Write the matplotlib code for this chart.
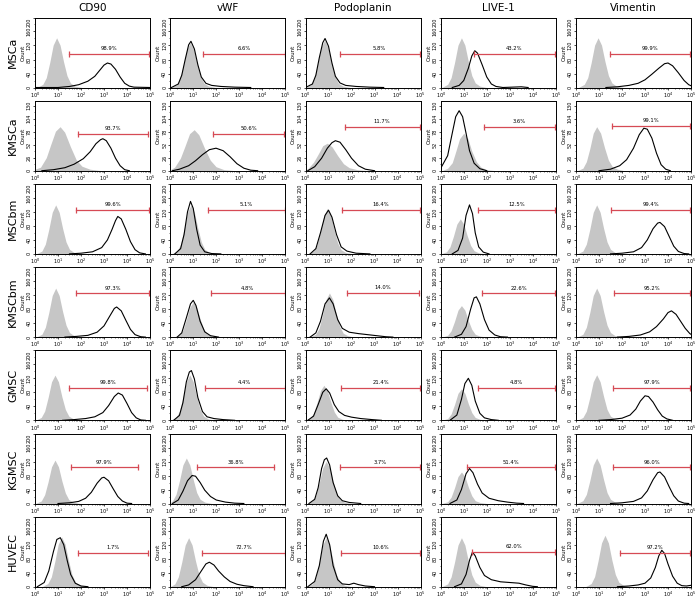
import numpy as np
import matplotlib.pyplot as plt
from matplotlib.ticker import FixedLocator, MultipleLocator

cells = ['MSCa', 'KMSCa', 'MSCbm', 'KMSCbm', 'GMSC', 'KGMSC', 'HUVEC']
markers = ['CD90', 'vWF', 'Podoplanin', 'LIVE-1', 'Vimentin']
ymax_rows = [200, 140, 200, 200, 200, 200, 200]

# curves: (log10 fluorescence, count), one entry per cell line
cd90_iso = [
    ([0.09, 0.34, 0.49, 0.64, 0.79, 0.94, 1.09, 1.24, 1.39, 1.54, 1.74, 2.04], [0, 9, 28, 71, 121, 142, 121, 74, 34, 13, 4, 0]),
    ([0, 0.24, 0.49, 0.69, 0.89, 1.09, 1.29, 1.54, 1.79, 2.04, 2.39, 2.89], [3, 7, 26, 53, 79, 88, 77, 48, 22, 9, 3, 0]),
    ([0.05, 0.3, 0.45, 0.6, 0.75, 0.9, 1.05, 1.2, 1.35, 1.5, 1.7, 2.0], [0, 8, 28, 70, 119, 140, 119, 73, 34, 13, 4, 0]),
    ([0.05, 0.3, 0.45, 0.6, 0.75, 0.9, 1.05, 1.2, 1.35, 1.5, 1.7, 2.0], [0, 8, 28, 70, 119, 140, 119, 73, 34, 13, 4, 0]),
    ([0.02, 0.27, 0.42, 0.57, 0.72, 0.87, 1.02, 1.17, 1.32, 1.47, 1.67, 1.97], [0, 8, 26, 65, 110, 129, 110, 67, 31, 12, 4, 0]),
    ([0.02, 0.27, 0.42, 0.57, 0.72, 0.87, 1.02, 1.17, 1.32, 1.47, 1.67, 1.97], [0, 7, 25, 62, 105, 124, 105, 64, 30, 11, 4, 0]),
    ([0.31, 0.56, 0.71, 0.86, 1.01, 1.16, 1.31, 1.46, 1.61, 1.76, 1.96, 2.26], [0, 9, 28, 71, 121, 142, 121, 74, 34, 13, 4, 0]),
]
cd90_stain = [
    ([0, 1.0, 1.5, 1.9, 2.3, 2.6, 2.85, 3.0, 3.15, 3.3, 3.5, 3.7, 3.9, 4.1, 4.3, 5.0], [0, 0, 3, 8, 18, 32, 52, 64, 70, 67, 52, 30, 12, 4, 1, 0]),
    ([0.3, 0.8, 1.3, 1.7, 2.1, 2.4, 2.65, 2.85, 2.95, 3.1, 3.3, 3.5, 3.7, 3.9, 4.1], [0, 2, 6, 13, 24, 38, 54, 62, 64, 60, 45, 25, 10, 2, 0]),
    ([1.5, 2.0, 2.5, 2.9, 3.15, 3.35, 3.5, 3.6, 3.75, 3.95, 4.15, 4.35, 4.55, 4.8], [0, 2, 6, 18, 40, 70, 95, 107, 100, 70, 35, 12, 3, 0]),
    ([1.3, 1.8, 2.3, 2.7, 3.0, 3.25, 3.45, 3.55, 3.75, 3.95, 4.15, 4.35, 4.6, 4.8], [0, 2, 5, 14, 32, 60, 82, 86, 75, 48, 22, 7, 1, 0]),
    ([1.2, 1.7, 2.2, 2.6, 2.95, 3.2, 3.45, 3.62, 3.8, 4.0, 4.2, 4.4, 4.6, 4.8], [0, 2, 5, 10, 22, 42, 68, 78, 72, 48, 22, 7, 1, 0]),
    ([1.0, 1.5, 1.9, 2.2, 2.45, 2.7, 2.9, 3.0, 3.2, 3.4, 3.6, 3.8, 4.0, 4.2], [0, 2, 6, 15, 32, 58, 73, 75, 65, 42, 20, 7, 1, 0]),
    ([0.1, 0.4, 0.6, 0.8, 0.95, 1.1, 1.25, 1.4, 1.55, 1.75, 2.0, 2.3], [0, 12, 45, 100, 135, 140, 120, 75, 35, 10, 2, 0]),
]
cd90_gate = [(1.48, 4.97, 97), (1.86, 4.9, 74), (1.78, 4.97, 126), (1.8, 4.97, 125),
             (1.49, 4.86, 92), (1.55, 4.47, 103), (1.88, 4.92, 96)]
cd90_pct = ['98.9%', '93.7%', '99.6%', '97.3%', '99.8%', '97.9%', '1.7%']

vwf_iso = [
    ([0.02, 0.27, 0.42, 0.57, 0.72, 0.87, 1.02, 1.17, 1.32, 1.47, 1.67, 1.97], [0, 8, 26, 64, 109, 128, 109, 67, 31, 12, 4, 0]),
    ([0, 0.19, 0.44, 0.64, 0.84, 1.04, 1.24, 1.49, 1.74, 1.99, 2.34, 2.84], [2, 7, 25, 49, 74, 82, 72, 45, 21, 8, 2, 0]),
    ([0.05, 0.3, 0.45, 0.6, 0.75, 0.9, 1.05, 1.2, 1.35, 1.5, 1.7, 2.0], [0, 8, 28, 70, 119, 140, 119, 73, 34, 13, 4, 0]),
    ([0.15, 0.4, 0.55, 0.7, 0.85, 1.0, 1.15, 1.3, 1.45, 1.6, 1.8, 2.1], [0, 6, 20, 50, 85, 100, 85, 52, 24, 9, 3, 0]),
    ([0, 0.25, 0.4, 0.55, 0.7, 0.85, 1.0, 1.15, 1.3, 1.45, 1.65, 1.95], [0, 8, 26, 65, 110, 130, 110, 68, 31, 12, 4, 0]),
    ([0, 0.1, 0.25, 0.4, 0.55, 0.7, 0.85, 1.0, 1.15, 1.3, 1.5, 1.8], [2, 8, 26, 65, 110, 130, 110, 68, 31, 12, 4, 0]),
    ([0, 0.2, 0.35, 0.5, 0.65, 0.8, 0.95, 1.1, 1.25, 1.4, 1.6, 1.9], [0, 8, 28, 70, 119, 140, 119, 73, 34, 13, 4, 0]),
]
vwf_stain = [
    ([0.05, 0.35, 0.5, 0.65, 0.8, 0.9, 1.05, 1.2, 1.35, 1.55, 1.8, 2.2, 2.8, 3.5], [0, 10, 35, 80, 122, 132, 110, 65, 30, 12, 6, 3, 1, 0]),
    ([0.1, 0.4, 0.8, 1.1, 1.4, 1.7, 1.99, 2.3, 2.6, 2.9, 3.2, 3.5, 3.8], [0, 3, 10, 20, 32, 42, 45, 40, 28, 14, 5, 1, 0]),
    ([0.2, 0.45, 0.6, 0.75, 0.88, 1.0, 1.15, 1.3, 1.5, 1.8, 2.2], [0, 15, 55, 120, 150, 130, 70, 25, 6, 1, 0]),
    ([0.3, 0.5, 0.7, 0.88, 1.0, 1.12, 1.3, 1.5, 1.75, 2.1], [0, 12, 55, 95, 105, 90, 45, 15, 4, 0]),
    ([0.15, 0.4, 0.55, 0.7, 0.83, 0.92, 1.05, 1.2, 1.4, 1.6, 1.9, 2.3, 2.8], [0, 14, 50, 110, 138, 142, 118, 65, 25, 10, 5, 2, 0]),
    ([0.1, 0.35, 0.55, 0.75, 0.95, 1.1, 1.3, 1.5, 1.75, 2.0, 2.4, 2.8, 3.2], [0, 10, 35, 65, 80, 78, 60, 38, 20, 10, 4, 1, 0]),
    ([0.5, 0.8, 1.1, 1.35, 1.55, 1.7, 1.9, 2.1, 2.35, 2.6, 2.9, 3.2, 3.6], [0, 5, 20, 45, 65, 70, 62, 45, 28, 15, 7, 3, 0]),
]
vwf_gate = [(1.43, 4.97, 97), (1.87, 4.96, 73), (1.65, 4.97, 126), (1.75, 4.97, 125),
            (1.5, 4.97, 92), (1.17, 4.5, 103), (1.4, 4.97, 96)]
vwf_pct = ['6.6%', '50.6%', '5.1%', '4.8%', '4.4%', '36.8%', '72.7%']

podo_iso = [
    ([0, 0.23, 0.38, 0.53, 0.68, 0.83, 0.98, 1.13, 1.28, 1.43, 1.63, 1.93], [0, 8, 27, 68, 115, 135, 115, 70, 32, 12, 4, 0]),
    ([0, 0.1, 0.35, 0.55, 0.75, 0.95, 1.15, 1.4, 1.65, 1.9, 2.25, 2.75], [2, 4, 17, 33, 50, 55, 48, 30, 14, 6, 2, 0]),
    ([0.1, 0.35, 0.5, 0.65, 0.8, 0.95, 1.1, 1.25, 1.4, 1.55, 1.75, 2.05], [0, 8, 26, 65, 110, 130, 110, 68, 31, 12, 4, 0]),
    ([0.19, 0.44, 0.59, 0.74, 0.89, 1.04, 1.19, 1.34, 1.49, 1.64, 1.84, 2.14], [0, 8, 25, 63, 107, 126, 107, 66, 30, 11, 4, 0]),
    ([0, 0.2, 0.35, 0.5, 0.65, 0.8, 0.95, 1.1, 1.25, 1.4, 1.6, 1.9], [0, 6, 20, 50, 85, 100, 85, 52, 24, 9, 3, 0]),
    ([0.05, 0.3, 0.45, 0.6, 0.75, 0.9, 1.05, 1.2, 1.35, 1.5, 1.7, 2.0], [0, 7, 24, 60, 102, 120, 102, 62, 29, 11, 4, 0]),
    ([0.05, 0.3, 0.45, 0.6, 0.75, 0.9, 1.05, 1.2, 1.35, 1.5, 1.7, 2.0], [0, 8, 28, 70, 119, 140, 119, 73, 34, 13, 4, 0]),
]
podo_stain = [
    ([0.0, 0.3, 0.45, 0.6, 0.75, 0.85, 1.0, 1.15, 1.3, 1.5, 1.75, 2.2, 2.8, 3.4], [0, 10, 35, 85, 128, 140, 118, 70, 32, 13, 6, 3, 1, 0]),
    ([0.1, 0.4, 0.7, 0.95, 1.15, 1.3, 1.5, 1.75, 2.0, 2.3, 2.6, 3.0], [0, 8, 25, 45, 56, 60, 57, 42, 25, 10, 3, 0]),
    ([0.2, 0.45, 0.65, 0.85, 1.0, 1.15, 1.35, 1.55, 1.8, 2.2, 2.8], [0, 15, 60, 110, 125, 105, 55, 20, 8, 2, 0]),
    ([0.2, 0.45, 0.65, 0.85, 1.04, 1.2, 1.4, 1.6, 1.9, 2.3, 2.7, 3.1, 3.5, 3.8], [0, 12, 45, 95, 112, 95, 50, 25, 14, 10, 7, 4, 1, 0]),
    ([0.1, 0.35, 0.55, 0.75, 0.9, 1.05, 1.25, 1.45, 1.7, 2.0, 2.4, 2.9, 3.3], [0, 12, 45, 80, 90, 78, 45, 25, 14, 9, 5, 2, 0]),
    ([0.15, 0.4, 0.55, 0.7, 0.82, 0.92, 1.05, 1.2, 1.4, 1.6, 1.9, 2.4], [0, 12, 45, 100, 125, 130, 110, 60, 22, 8, 3, 0]),
    ([0.1, 0.4, 0.6, 0.78, 0.9, 1.05, 1.2, 1.4, 1.6, 1.9, 2.1, 2.3, 2.6, 3.0], [0, 15, 60, 130, 150, 120, 60, 20, 8, 6, 10, 6, 2, 0]),
]
podo_gate = [(1.48, 4.97, 97), (1.7, 4.97, 88), (1.57, 4.97, 126), (1.81, 4.92, 126),
             (1.55, 4.97, 92), (1.5, 4.97, 103), (1.55, 4.97, 96)]
podo_pct = ['5.8%', '11.7%', '16.4%', '14.0%', '21.4%', '3.7%', '10.6%']

live_iso = [
    ([0.05, 0.3, 0.45, 0.6, 0.75, 0.9, 1.05, 1.2, 1.35, 1.5, 1.7, 2.0], [0, 9, 28, 71, 121, 142, 121, 74, 34, 13, 4, 0]),
    ([0.05, 0.3, 0.5, 0.65, 0.82, 1.0, 1.18, 1.35, 1.55, 1.75, 2.0, 2.4], [0, 5, 16, 38, 64, 75, 64, 39, 18, 7, 2, 0]),
    ([0, 0.25, 0.4, 0.55, 0.7, 0.85, 1.0, 1.15, 1.3, 1.45, 1.65, 1.95], [0, 6, 20, 50, 85, 100, 85, 52, 24, 9, 3, 0]),
    ([0.05, 0.3, 0.45, 0.6, 0.75, 0.9, 1.05, 1.2, 1.35, 1.5, 1.7, 2.0], [0, 5, 18, 45, 77, 90, 77, 47, 22, 8, 3, 0]),
    ([0.05, 0.3, 0.45, 0.6, 0.75, 0.9, 1.05, 1.2, 1.35, 1.5, 1.7, 2.0], [0, 5, 18, 45, 77, 90, 77, 47, 22, 8, 3, 0]),
    ([0.05, 0.3, 0.45, 0.6, 0.75, 0.9, 1.05, 1.2, 1.35, 1.5, 1.7, 2.0], [0, 5, 18, 45, 77, 90, 77, 47, 22, 8, 3, 0]),
    ([0.05, 0.3, 0.45, 0.6, 0.75, 0.9, 1.05, 1.2, 1.35, 1.5, 1.7, 2.0], [0, 8, 28, 70, 119, 140, 119, 73, 34, 13, 4, 0]),
]
live_stain = [
    ([0.5, 0.8, 1.0, 1.2, 1.35, 1.48, 1.6, 1.8, 2.0, 2.2, 2.4, 2.7, 3.5, 3.8], [0, 6, 20, 55, 90, 105, 98, 65, 30, 10, 3, 0, 2, 0]),
    ([0.0, 0.3, 0.5, 0.65, 0.8, 0.95, 1.1, 1.25, 1.45, 1.7, 2.0], [5, 30, 75, 108, 120, 108, 75, 40, 15, 4, 0]),
    ([0.5, 0.75, 0.95, 1.1, 1.25, 1.38, 1.5, 1.65, 1.85, 2.1], [0, 10, 45, 110, 140, 115, 60, 20, 5, 0]),
    ([0.6, 0.9, 1.1, 1.3, 1.45, 1.55, 1.7, 1.9, 2.1, 2.35, 2.6, 2.9], [0, 8, 30, 80, 112, 115, 95, 50, 20, 6, 1, 0]),
    ([0.4, 0.7, 0.9, 1.05, 1.2, 1.35, 1.5, 1.7, 1.9, 2.2, 2.5], [0, 15, 60, 105, 120, 100, 55, 20, 7, 2, 0]),
    ([0.4, 0.7, 0.9, 1.1, 1.25, 1.4, 1.6, 1.8, 2.1, 2.5, 2.9, 3.3, 3.6], [0, 10, 40, 85, 100, 88, 55, 30, 15, 8, 4, 1, 0]),
    ([0.6, 0.9, 1.1, 1.25, 1.38, 1.5, 1.7, 1.9, 2.2, 2.6, 3.0, 3.4, 3.7, 4.0, 4.2], [0, 8, 35, 75, 99, 88, 55, 32, 20, 14, 12, 10, 5, 1, 0]),
]
live_gate = [(1.43, 4.97, 97), (1.87, 4.97, 88), (1.6, 4.97, 126), (1.8, 4.97, 125),
             (1.6, 4.97, 92), (1.15, 4.97, 103), (1.38, 4.97, 99)]
live_pct = ['43.2%', '3.6%', '12.5%', '22.6%', '4.8%', '51.4%', '62.0%']

vim_iso = [
    ([0.11, 0.36, 0.51, 0.66, 0.81, 0.96, 1.11, 1.26, 1.41, 1.56, 1.76, 2.06], [0, 9, 28, 71, 121, 142, 121, 74, 34, 13, 4, 0]),
    ([0.05, 0.3, 0.45, 0.6, 0.75, 0.9, 1.07, 1.24, 1.41, 1.58, 1.8, 2.1], [0, 5, 18, 44, 75, 88, 75, 46, 21, 8, 3, 0]),
    ([0.05, 0.3, 0.45, 0.6, 0.75, 0.9, 1.05, 1.2, 1.35, 1.5, 1.7, 2.0], [0, 8, 28, 70, 119, 140, 119, 73, 34, 13, 4, 0]),
    ([0.05, 0.3, 0.45, 0.6, 0.75, 0.9, 1.05, 1.2, 1.35, 1.5, 1.7, 2.0], [0, 8, 28, 70, 119, 140, 119, 73, 34, 13, 4, 0]),
    ([0.05, 0.3, 0.45, 0.6, 0.75, 0.9, 1.05, 1.2, 1.35, 1.5, 1.7, 2.0], [0, 8, 26, 65, 110, 130, 110, 68, 31, 12, 4, 0]),
    ([0.05, 0.3, 0.45, 0.6, 0.75, 0.9, 1.05, 1.2, 1.35, 1.5, 1.7, 2.0], [0, 8, 26, 65, 110, 130, 110, 68, 31, 12, 4, 0]),
    ([0.41, 0.66, 0.81, 0.96, 1.11, 1.26, 1.41, 1.56, 1.71, 1.86, 2.06, 2.36], [0, 9, 29, 74, 125, 147, 125, 76, 35, 13, 4, 0]),
]
vim_stain = [
    ([1.3, 1.8, 2.3, 2.7, 3.0, 3.3, 3.6, 3.85, 4.0, 4.2, 4.45, 4.7, 4.9, 5.0], [0, 2, 6, 12, 22, 38, 55, 68, 70, 62, 42, 20, 8, 5]),
    ([1.0, 1.5, 1.9, 2.2, 2.5, 2.75, 2.95, 3.1, 3.3, 3.5, 3.7, 3.9, 4.1], [0, 3, 10, 22, 45, 72, 85, 83, 65, 35, 12, 3, 0]),
    ([1.5, 2.0, 2.5, 2.85, 3.1, 3.35, 3.55, 3.65, 3.85, 4.05, 4.25, 4.45, 4.7, 4.9], [0, 2, 6, 18, 40, 72, 88, 90, 78, 50, 22, 7, 1, 0]),
    ([1.8, 2.3, 2.8, 3.2, 3.5, 3.8, 4.0, 4.15, 4.35, 4.55, 4.75, 4.95, 5.0], [0, 2, 6, 15, 30, 52, 70, 75, 65, 45, 25, 10, 8]),
    ([1.0, 1.5, 2.0, 2.35, 2.6, 2.8, 3.0, 3.15, 3.35, 3.55, 3.75, 3.95, 4.2], [0, 2, 6, 15, 32, 55, 70, 68, 52, 30, 12, 4, 0]),
    ([1.5, 2.0, 2.5, 2.85, 3.1, 3.35, 3.55, 3.65, 3.85, 4.05, 4.25, 4.45, 4.7, 4.9], [0, 2, 6, 16, 36, 68, 88, 90, 76, 48, 22, 7, 1, 0]),
    ([1.8, 2.3, 2.7, 3.0, 3.25, 3.45, 3.6, 3.73, 3.85, 4.0, 4.2, 4.4, 4.6, 4.8, 5.0], [0, 2, 5, 10, 25, 55, 88, 104, 95, 65, 30, 10, 3, 2, 4]),
]
vim_gate = [(1.48, 4.97, 97), (1.56, 4.97, 90), (1.52, 4.97, 126), (1.65, 4.97, 125),
            (1.6, 4.97, 92), (1.6, 4.97, 103), (1.9, 4.97, 97)]
vim_pct = ['99.9%', '99.1%', '99.4%', '95.2%', '97.9%', '96.0%', '97.2%']

panels = [
    (cd90_iso, cd90_stain, cd90_gate, cd90_pct),
    (vwf_iso, vwf_stain, vwf_gate, vwf_pct),
    (podo_iso, podo_stain, podo_gate, podo_pct),
    (live_iso, live_stain, live_gate, live_pct),
    (vim_iso, vim_stain, vim_gate, vim_pct),
]

W, H = 696, 600
fig = plt.figure(figsize=(W / 100, H / 100), dpi=100)
red = '#d64a55'

for r, cell in enumerate(cells):
    ymax = ymax_rows[r]
    if ymax == 200:
        yt = [0, 40, 80, 120, 160, 200]
    else:
        yt = [0, 26, 52, 78, 104, 130]
    y0 = 87.5 + 83.2 * r  # bottom edge of the row, pixels from top
    fig.text(13 / W, 1 - (y0 - 35) / H, cell, rotation=90, ha='center', va='center', fontsize=8)
    for c, (iso, stain, gate, pct) in enumerate(panels):
        x0 = 35 + 135.25 * c
        ax = fig.add_axes([x0 / W, 1 - y0 / H, 115 / W, 70 / H])
        ax.set_xscale('log')
        ax.set_xlim(1, 1e5)
        ax.set_ylim(0, ymax)

        xi, yi = iso[r]
        ax.fill_between(10 ** np.array(xi), yi, color='#c6c6c6', lw=0)
        xs, ys = stain[r]
        ax.plot(10 ** np.array(xs), ys, color='black', lw=0.8)

        g0, g1, gy = gate[r]
        ax.plot([10 ** g0, 10 ** g1], [gy, gy], color=red, lw=0.9, marker='|', ms=4, mew=0.9)
        ax.text(10 ** ((g0 + g1) / 2), gy + 0.04 * ymax, pct[r], ha='center', va='bottom', fontsize=3.8)

        ax.xaxis.set_major_locator(FixedLocator([1, 10, 100, 1e3, 1e4, 1e5]))
        ax.set_yticks(yt)
        labels = ax.set_yticklabels([str(v) for v in yt], rotation=90, va='center')
        if ymax == 200:
            labels[-1].set_va('top')
        ax.yaxis.set_minor_locator(MultipleLocator(yt[1] / 2))
        ax.tick_params(which='major', labelsize=3.5, length=1.6, width=0.5, pad=0.6)
        ax.tick_params(which='minor', length=1, width=0.4)
        ax.set_ylabel('Count', fontsize=4, labelpad=1)
        for s in ax.spines.values():
            s.set_linewidth(0.7)

        if r == 0:
            fig.text((x0 + 57.5) / W, 1 - 8 / H, markers[c], ha='center', va='center', fontsize=7.5)

fig.savefig('out.png', dpi=100)
